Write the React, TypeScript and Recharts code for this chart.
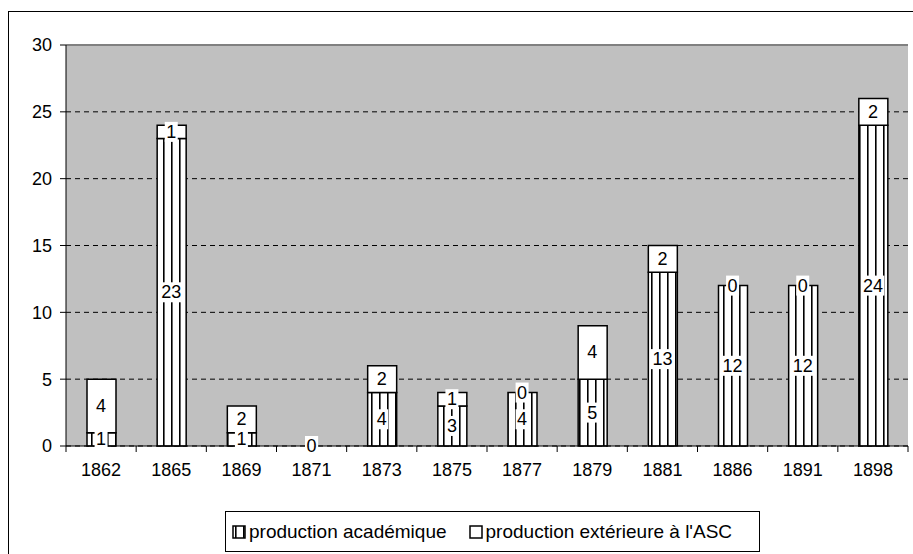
import { ComposedChart, Bar, Line, XAxis, YAxis, CartesianGrid, ReferenceLine } from "recharts";

const years = ["1862", "1865", "1869", "1871", "1873", "1875", "1877", "1879", "1881", "1886", "1891", "1898"];
const academique = [1, 23, 1, 0, 4, 3, 4, 5, 13, 12, 12, 24];
const exterieure = [4, 1, 2, 0, 2, 1, 0, 4, 2, 0, 0, 2];
const yTicks = [0, 5, 10, 15, 20, 25, 30];

// label anchors sit in the middle of each stacked segment
const data = years.map((year, i) => ({
  year,
  academique: academique[i],
  exterieure: exterieure[i],
  acadMid: academique[i] / 2,
  extMid: academique[i] + exterieure[i] / 2,
}));

const W = 913;
const H = 554;
const xAxisHeight = 30;
const margin = { top: 45, right: 5, bottom: 108 - xAxisHeight, left: 0 };
const yAxisWidth = 66;
const band = (W - margin.left - margin.right - yAxisWidth) / years.length;
const FONT = "'Liberation Sans', Arial, sans-serif";

const makeLabel = (field: "academique" | "exterieure") => (props: any) => {
  const { cx, cy, payload, index } = props;
  const value = payload[field];
  const tw = String(value).length * 10 + 3;
  return (
    <g key={`${field}-${index}`}>
      <rect x={cx - tw / 2} y={cy - 10} width={tw} height={20} fill="#fff" />
      <text x={cx} y={cy} textAnchor="middle" dominantBaseline="central" fontSize={18} fontFamily={FONT} fill="#000">
        {value}
      </text>
    </g>
  );
};

const XTick = (props: any) => {
  const { x, y, payload, index } = props;
  const top = y - 6;
  return (
    <g>
      <line x1={x - band / 2} y1={top} x2={x - band / 2} y2={top + 6} stroke="#000" />
      {index === years.length - 1 && (
        <line x1={x + band / 2} y1={top} x2={x + band / 2} y2={top + 6} stroke="#000" />
      )}
      <text x={x} y={top + 30} textAnchor="middle" fontSize={18} fontFamily={FONT} fill="#000">
        {payload.value}
      </text>
    </g>
  );
};

const LegendBox = () => (
  <div
    style={{
      position: "absolute",
      left: 225,
      top: 511,
      width: 533,
      height: 39,
      border: "1px solid #000",
      background: "#fff",
      display: "flex",
      alignItems: "center",
      fontFamily: FONT,
      fontSize: 19,
      color: "#000",
      whiteSpace: "nowrap",
    }}
  >
    <svg width={14} height={14} style={{ marginLeft: 6, marginRight: 3 }}>
      <rect x={1} y={1} width={12} height={12} fill="url(#stripes)" stroke="#000" strokeWidth={1.5} />
    </svg>
    <span>production académique</span>
    <svg width={14} height={14} style={{ marginLeft: 22, marginRight: 3 }}>
      <rect x={1} y={1} width={12} height={12} fill="#fff" stroke="#000" strokeWidth={1.5} />
    </svg>
    <span>production extérieure à l'ASC</span>
  </div>
);

export default function App() {
  return (
    <div style={{ position: "relative", width: W, height: H, overflow: "hidden", background: "#fff" }}>
      <style>{"body{margin:0}"}</style>
      <div
        style={{
          position: "absolute",
          left: 8,
          top: 11,
          width: W,
          height: H,
          borderLeft: "1px solid #000",
          borderTop: "1px solid #000",
        }}
      />
      <ComposedChart width={W} height={H} data={data} margin={margin} barSize={29} style={{ position: "absolute", left: 0, top: 0 }}>
        <defs>
          <pattern id="stripes" patternUnits="userSpaceOnUse" width={8} height={8}>
            <rect width={8} height={8} fill="#fff" />
            <rect x={3} width={1.6} height={8} fill="#000" />
          </pattern>
        </defs>
        <CartesianGrid
          vertical={false}
          stroke="#000"
          strokeDasharray="5 4"
          fill="#c0c0c0"
          fillOpacity={1}
        />
        <XAxis
          dataKey="year"
          height={xAxisHeight}
          tick={<XTick />}
          tickLine={false}
          tickSize={6}
          tickMargin={0}
          axisLine={{ stroke: "#000" }}
          interval={0}
        />
        <YAxis
          width={yAxisWidth}
          domain={[0, 30]}
          ticks={yTicks}
          tickSize={6}
          tickMargin={8}
          tickLine={{ stroke: "#000" }}
          axisLine={{ stroke: "#000" }}
          tick={{ fontSize: 18, fontFamily: FONT, fill: "#000" }}
        />
        <YAxis
          yAxisId="r"
          orientation="right"
          width={0}
          domain={[0, 30]}
          tick={false}
          tickLine={false}
          axisLine={{ stroke: "#808080", strokeWidth: 2 }}
        />
        <ReferenceLine y={30} stroke="#808080" strokeWidth={2} />
        <Bar dataKey="academique" stackId="a" fill="url(#stripes)" stroke="#000" strokeWidth={1.5} isAnimationActive={false} />
        <Bar dataKey="exterieure" stackId="a" fill="#fff" stroke="#000" strokeWidth={1.5} isAnimationActive={false} />
        <Line
          dataKey="acadMid"
          stroke="none"
          dot={makeLabel("academique")}
          activeDot={false}
          isAnimationActive={false}
        />
        <Line
          dataKey="extMid"
          stroke="none"
          dot={makeLabel("exterieure")}
          activeDot={false}
          isAnimationActive={false}
        />
      </ComposedChart>
      <LegendBox />
    </div>
  );
}
